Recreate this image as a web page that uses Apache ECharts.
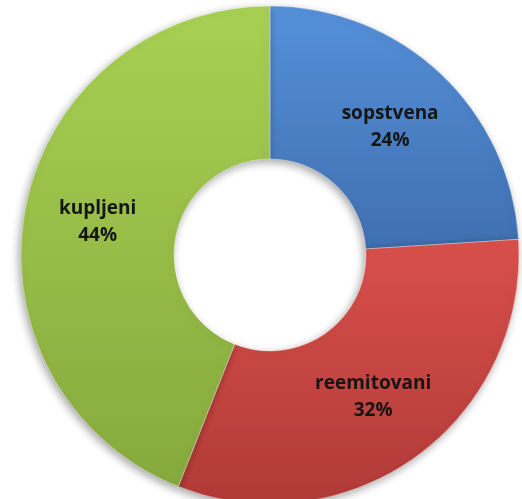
<!DOCTYPE html>
<html>
<head>
<meta charset="utf-8">
<script src="https://cdn.jsdelivr.net/npm/echarts@6/dist/echarts.min.js"></script>
<style>
  html, body { margin: 0; padding: 0; background: #fff; }
  #chart { width: 522px; height: 499px; }
</style>
</head>
<body>
<div id="chart"></div>
<script>
  // data
  var categories = ['sopstvena', 'reemitovani', 'kupljeni'];
  var values = [24, 32, 44];
  var colorsTop = ['#5590d8', '#d9504c', '#a8d052'];
  var colorsBottom = ['#3f6fb0', '#b03a37', '#86a93d'];

  function grad(i) {
    return new echarts.graphic.LinearGradient(0, 0, 0, 1, [
      { offset: 0, color: colorsTop[i] },
      { offset: 1, color: colorsBottom[i] }
    ]);
  }

  var pieData = categories.map(function (name, i) {
    return { name: name, value: values[i], itemStyle: { color: grad(i) } };
  });

  var chart = echarts.init(document.getElementById('chart'));
  chart.setOption({
    backgroundColor: '#fff',
    animation: false,
    series: [{
      type: 'pie',
      center: [270, 255],
      radius: [96, 249],
      startAngle: 90,
      clockwise: true,
      avoidLabelOverlap: false,
      itemStyle: {
        borderColor: 'rgba(255,255,255,0.35)',
        borderWidth: 1,
        shadowBlur: 8,
        shadowOffsetX: -2,
        shadowOffsetY: 3,
        shadowColor: 'rgba(0,0,0,0.35)'
      },
      label: {
        show: true,
        position: 'inside',
        formatter: '{b}\n{c}%',
        color: '#151515',
        fontFamily: 'Open Sans',
        fontWeight: 'bold',
        fontSize: 19,
        lineHeight: 27
      },
      labelLine: { show: false },
      data: pieData
    }]
  });
</script>
</body>
</html>
